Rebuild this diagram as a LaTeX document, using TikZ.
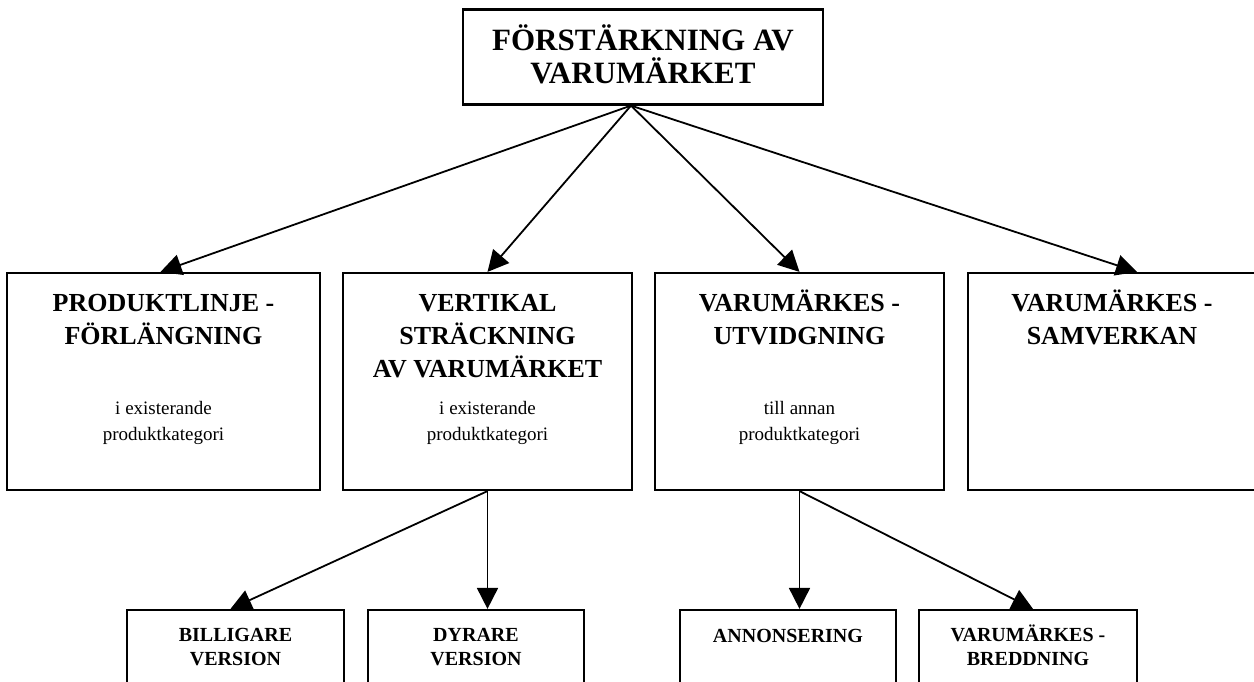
\documentclass[tikz,border=0pt]{standalone}
\usepackage{fontspec}
\setmainfont{Liberation Serif}
\usetikzlibrary{arrows.meta,calc}
\begin{document}
\begin{tikzpicture}[x=1pt,y=-1pt,
  box/.style={draw, line width=2.2pt, inner sep=0pt},
  arr/.style={line width=1.8pt, -{Triangle[length=21pt,width=21pt]}},
  ttl/.style={font=\bfseries\fontsize{31}{33}\selectfont, anchor=base, inner sep=0pt},
  hd/.style={font=\bfseries\fontsize{26}{33}\selectfont, anchor=base, inner sep=0pt},
  sub/.style={font=\fontsize{19}{26}\selectfont, anchor=base, inner sep=0pt},
  sm/.style={font=\bfseries\fontsize{20}{24}\selectfont, anchor=base, inner sep=0pt}]
\useasboundingbox (0,0) rectangle (1254,681);
\clip (0,0) rectangle (1254,681);
% top box
\node[box, minimum width=360pt, minimum height=95pt] (top) at (643,57) {};
\node[ttl] (t1) at (643,50) {FÖRSTÄRKNING AV};
\node[ttl] (t2) at (643,83) {VARUMÄRKET};
% level 2 boxes
\node[box, minimum width=313pt, minimum height=217pt] (A) at (163.5,381.5) {};
\node[box, minimum width=289pt, minimum height=217pt] (B) at (487.5,381.5) {};
\node[box, minimum width=289pt, minimum height=217pt] (C) at (799.5,381.5) {};
\node[box, minimum width=288pt, minimum height=217pt] (D) at (1112,381.5) {};
% texts in A
\node[hd] (a1) at (163.5,311) {PRODUKTLINJE -};
\node[hd] (a2) at (163.5,344) {FÖRLÄNGNING};
\node[sub] (a3) at (163.5,414) {i existerande};
\node[sub] (a4) at (163.5,440) {produktkategori};
% texts in B
\node[hd] (b1) at (487.5,311) {VERTIKAL};
\node[hd] (b2) at (487.5,344) {STRÄCKNING};
\node[hd] (b3) at (487.5,377) {AV VARUMÄRKET};
\node[sub] (b4) at (487.5,414) {i existerande};
\node[sub] (b5) at (487.5,440) {produktkategori};
% texts in C
\node[hd] (c1) at (799.5,311) {VARUMÄRKES -};
\node[hd] (c2) at (799.5,344) {UTVIDGNING};
\node[sub] (c3) at (799.5,414) {till annan};
\node[sub] (c4) at (799.5,440) {produktkategori};
% texts in D
\node[hd] (d1) at (1112,311) {VARUMÄRKES -};
\node[hd] (d2) at (1112,344) {SAMVERKAN};
% bottom boxes
\node[box, minimum width=217pt, minimum height=110pt] (bill) at (235.5,665) {};
\node[box, minimum width=216pt, minimum height=110pt] (dyr) at (476,665) {};
\node[box, minimum width=216pt, minimum height=110pt] (ann) at (788,665) {};
\node[box, minimum width=218pt, minimum height=110pt] (bred) at (1028,665) {};
\node[sm] (bl1) at (235.5,641) {BILLIGARE};
\node[sm] (bl2) at (235.5,665) {VERSION};
\node[sm] (dy1) at (476,641) {DYRARE};
\node[sm] (dy2) at (476,665) {VERSION};
\node[sm] (an1) at (788,642) {ANNONSERING};
\node[sm] (br1) at (1028,641) {VARUMÄRKES -};
\node[sm] (br2) at (1028,665) {BREDDNING};
% connectors
\coordinate (o) at ($(top.south)+(-12,0)$);
\coordinate (At) at ($(A.north)+(-3,0)$);
\coordinate (Dt) at ($(D.north)+(25,0)$);
\draw[arr] (o) -- (At);
\draw[arr] (o) -- (B.north);
\draw[arr] (o) -- (C.north);
\draw[arr] (o) -- (Dt);
\coordinate (Bo) at (B.south);
\coordinate (Co) at (C.south);
\coordinate (billt) at ($(bill.north)+(-5,0)$);
\coordinate (bredt) at ($(bred.north)+(5,0)$);
\draw[arr] (Bo) -- (billt);
\draw[arr] (Bo) -- (Bo |- dyr.north);
\draw[arr] (Co) -- (Co |- ann.north);
\draw[arr] (Co) -- (bredt);
\end{tikzpicture}
\end{document}
